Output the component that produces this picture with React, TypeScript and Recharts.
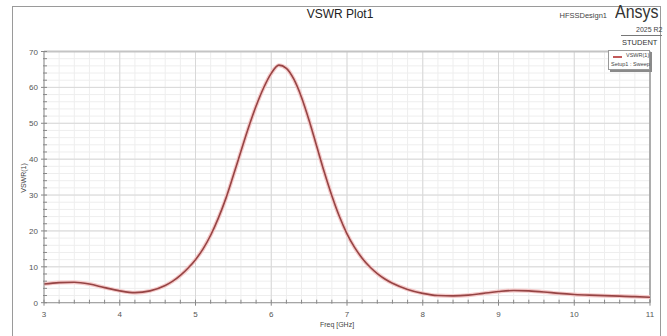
import React from "react";
import { LineChart, Line, XAxis, YAxis, CartesianGrid, ReferenceLine } from "recharts";

const freq = [
  3.0, 3.2, 3.4, 3.6, 3.8, 4.0, 4.2, 4.4, 4.6, 4.7, 4.8, 4.9, 5.0, 5.1, 5.2, 5.3, 5.4, 5.5, 5.6, 5.7,
  5.8, 5.9, 6.0, 6.1, 6.2, 6.3, 6.4, 6.5, 6.6, 6.7, 6.8, 6.9, 7.0, 7.1, 7.2, 7.3, 7.4, 7.5, 7.6, 7.8,
  8.0, 8.2, 8.4, 8.6, 8.8, 9.0, 9.2, 9.4, 9.6, 9.8, 10.0, 10.2, 10.5, 10.8, 11.0,
];
const vswr = [
  5.2, 5.6, 5.7, 5.2, 4.2, 3.3, 2.8, 3.3, 4.8, 6.0, 7.6, 9.6, 12.0, 15.0, 18.8, 23.5, 29.0, 35.5, 42.2, 48.8,
  54.8, 59.9, 63.9, 66.2, 65.3, 62.2, 57.2, 50.8, 43.6, 36.4, 29.8, 24.0, 19.2, 15.4, 12.4, 10.0, 8.1, 6.6, 5.4, 3.7,
  2.6, 2.0, 1.9, 2.1, 2.6, 3.1, 3.4, 3.3, 3.0, 2.6, 2.3, 2.1, 1.9, 1.7, 1.5,
];

const xMajor = [3, 4, 5, 6, 7, 8, 9, 10, 11];
const yMajor = [0, 10, 20, 30, 40, 50, 60, 70];
const xMinor = Array.from({ length: 41 }, (_, i) => Math.round((3 + i * 0.2) * 10) / 10);
const yMinor = Array.from({ length: 36 }, (_, i) => i * 2);

const data = freq.map((f, i) => ({ f, v: vswr[i] }));

const FONT = "'Liberation Sans', Arial, sans-serif";

const XTick = (props: any) => {
  const { x, y, payload } = props;
  const val = payload.value;
  const major = Math.abs(val - Math.round(val)) < 1e-6;
  return (
    <g>
      <line x1={x} x2={x} y1={y - 3} y2={y + (major ? 3 : 1)} stroke="#888" strokeWidth={1} />
      {major && (
        <text x={x} y={y + 14} textAnchor="middle" fontSize={8} fill="#555" fontFamily={FONT}>
          {val}
        </text>
      )}
    </g>
  );
};

const YTick = (props: any) => {
  const { x, y, payload } = props;
  const val = payload.value;
  const major = val % 10 === 0;
  return (
    <g>
      <line x1={x - (major ? 3 : 1)} x2={x + 3} y1={y} y2={y} stroke="#888" strokeWidth={1} />
      {major && (
        <text x={x - 6} y={y + 3} textAnchor="end" fontSize={8} fill="#555" fontFamily={FONT}>
          {val}
        </text>
      )}
    </g>
  );
};

const abs = (l: number, t: number, extra: any = {}) => ({
  position: "absolute" as const,
  left: l,
  top: t,
  lineHeight: 1,
  whiteSpace: "nowrap" as const,
  ...extra,
});

export default function App() {
  return (
    <div style={{ position: "absolute", left: 0, top: 0, width: 667, height: 336, background: "#fff", overflow: "hidden", fontFamily: FONT }}>
      <div style={{ position: "absolute", left: 12, top: 6, width: 649, height: 340, border: "1.5px solid #9a9a9a", boxSizing: "border-box" }} />
      <div style={{ position: "absolute", left: 0, top: 0 }}>
        <LineChart width={667} height={336} data={data} margin={{ top: 51.5, right: 17, left: 14, bottom: 13.3 }}>
          <CartesianGrid stroke="#eeeeee" verticalValues={xMinor} horizontalValues={yMinor} />
          <CartesianGrid stroke="#d8d8d8" verticalValues={xMajor} horizontalValues={yMajor} />
          <XAxis
            dataKey="f"
            type="number"
            domain={[3, 11]}
            ticks={xMinor}
            interval={0}
            tick={<XTick />}
            tickSize={0}
            tickMargin={0}
            tickLine={false}
            axisLine={{ stroke: "#999" }}
            height={20}
          />
          <YAxis
            type="number"
            domain={[0, 70]}
            ticks={yMinor}
            interval={0}
            tick={<YTick />}
            tickSize={0}
            tickMargin={0}
            tickLine={false}
            axisLine={{ stroke: "#999" }}
            width={30}
          />
          <ReferenceLine y={70} stroke="#c4c4c4" strokeWidth={2} />
          <ReferenceLine x={11} stroke="#9a9a9a" strokeWidth={1.5} />
          <Line dataKey="v" type="monotone" stroke="#f5caca" strokeWidth={4} dot={false} isAnimationActive={false} />
          <Line dataKey="v" type="monotone" stroke="#964444" strokeWidth={1.6} dot={false} isAnimationActive={false} />
        </LineChart>
      </div>
      <div style={abs(250, 8, { width: 180, textAlign: "center", fontSize: 12, color: "#222" })}>VSWR Plot1</div>
      <div style={abs(540, 12, { width: 67, textAlign: "right", fontSize: 7.5, color: "#444" })}>HFSSDesign1</div>
      <div style={abs(615, 2, { fontSize: 19, color: "#333", transform: "scaleX(0.84)", transformOrigin: "left top" })}>Ansys</div>
      <div style={abs(636, 26, { fontSize: 7, color: "#444" })}>2025 R2</div>
      <div style={{ position: "absolute", left: 621, top: 35, width: 41, height: 1, background: "#777" }} />
      <div style={abs(622, 39, { fontSize: 7.5, color: "#333" })}>STUDENT</div>
      <div style={{ position: "absolute", left: 608, top: 50, width: 42, height: 20, background: "#fff", border: "1px solid #999", boxShadow: "2px 2px 0 #8a8a8a", boxSizing: "border-box" }}>
        <div style={{ position: "absolute", left: 4, top: 5, width: 9, height: 1.5, background: "#c25a5a" }} />
        <div style={abs(17, 2, { fontSize: 5.5, color: "#444" })}>VSWR(1)</div>
        <div style={abs(2, 11, { fontSize: 5.5, color: "#444" })}>Setup1 : Sweep</div>
      </div>
      <div style={abs(23, 178, { transform: "translate(-50%, -50%) rotate(-90deg)", fontSize: 7, color: "#444" })}>VSWR(1)</div>
      <div style={abs(297, 321, { width: 80, textAlign: "center", fontSize: 7, color: "#444" })}>Freq [GHz]</div>
    </div>
  );
}
